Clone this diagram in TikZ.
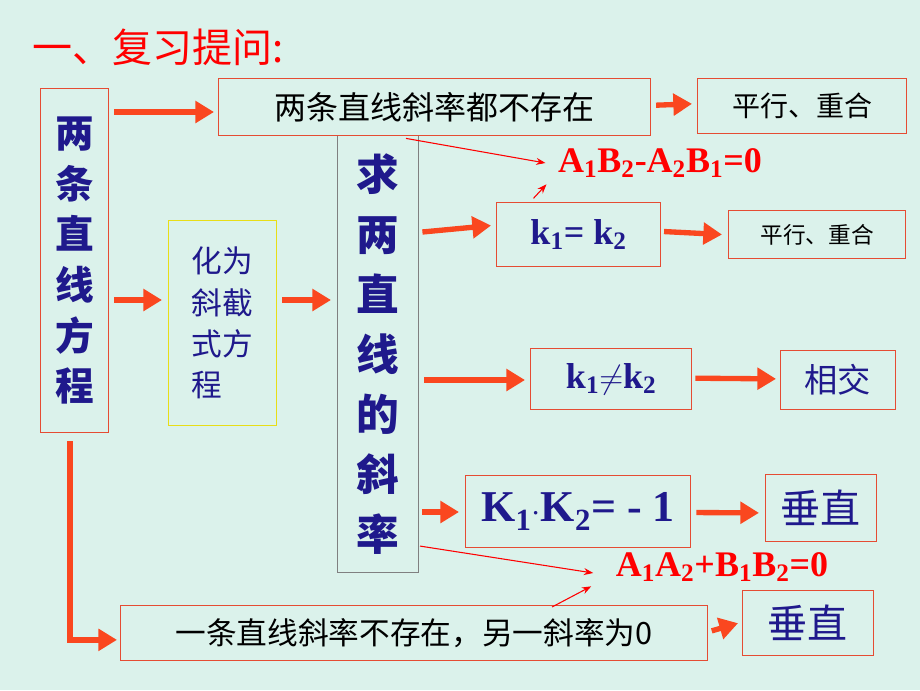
\documentclass[tikz,border=0pt]{standalone}
\usepackage{fontspec}
\setmainfont{Liberation Serif}
\newfontfamily\cjk{Noto Sans CJK SC}
\usetikzlibrary{arrows.meta,calc}
\definecolor{bgc}{rgb}{0.86,0.95,0.92}
\definecolor{arr}{rgb}{0.98,0.28,0.12}
\definecolor{txtblue}{rgb}{0.12,0.1,0.55}
\definecolor{boxred}{rgb}{0.9,0.3,0.2}
\tikzset{
  box/.style={draw=boxred,line width=0.8pt,inner sep=0pt,anchor=north west},
  fat/.style={arr,line width=4pt,-{Triangle[length=14pt,width=16pt]}},
  thin/.style={red,line width=0.8pt,-{Stealth[length=7pt]}},
}
\begin{document}
\begin{tikzpicture}[x=0.75pt,y=-0.75pt]
\fill[bgc] (0,0) rectangle (920,690);
\useasboundingbox (0,0) rectangle (920,690);
\node[anchor=west,red,font=\cjk\fontsize{30}{30}\selectfont] (title) at (28,47) {一、复习提问:};
% left column
\node[box,minimum width=51pt,minimum height=258pt] (eq) at (40,88) {};
\node[txtblue,font=\cjk\bfseries\fontsize{29}{38}\selectfont,align=center] (eqt) at (eq.center) {两\\条\\直\\线\\方\\程};
\node[box,draw=yellow!90!black,minimum width=81pt,minimum height=154pt] (xw) at (168,220) {};
\node[txtblue,font=\cjk\fontsize{23}{31}\selectfont,align=left] at (xw.center) {化为\\斜截\\式方\\程};
\node[box,draw=gray,minimum width=61pt,minimum height=328pt] (qk) at (337,135) {};
\node[txtblue,font=\cjk\bfseries\fontsize{32}{45}\selectfont,align=center] at (qk.center) {求\\两\\直\\线\\的\\斜\\率};
% top row
\node[box,minimum width=324pt,minimum height=43pt] (none) at (218,78) {};
\node[font=\cjk\fontsize{24}{24}\selectfont] at (none.center) {两条直线斜率都不存在};
\node[box,minimum width=157pt,minimum height=41pt] (px1) at (697,78) {};
\node[font=\cjk\fontsize{21}{21}\selectfont] at (px1.center) {平行、重合};
\node[red,font=\bfseries\fontsize{27}{27}\selectfont] (c1) at (660,163) {A\textsubscript{1}B\textsubscript{2}-A\textsubscript{2}B\textsubscript{1}=0};
% k1=k2
\node[box,minimum width=123pt,minimum height=48pt] (keq) at (496,202) {};
\node[txtblue,font=\bfseries\fontsize{27}{27}\selectfont] at (keq.center) {k\textsubscript{1}= k\textsubscript{2}};
\node[box,minimum width=133pt,minimum height=36pt] (px2) at (728,210) {};
\node[font=\cjk\fontsize{17}{17}\selectfont] at (px2.center) {平行、重合};
% k1!=k2
\node[box,minimum width=121pt,minimum height=46pt] (kne) at (530,348) {};
\node[txtblue,font=\bfseries\fontsize{27}{27}\selectfont] at (kne.center) {k\textsubscript{1}$\neq$k\textsubscript{2}};
\node[box,minimum width=86pt,minimum height=44pt] (xj) at (780,350) {};
\node[txtblue,font=\cjk\fontsize{25}{25}\selectfont] at (xj.center) {相交};
% K1K2=-1
\node[box,minimum width=169pt,minimum height=54pt] (kk) at (465,475) {};
\node[txtblue,font=\bfseries\fontsize{33}{33}\selectfont] at (kk.center) {K\textsubscript{1}$\cdot$K\textsubscript{2}= - 1};
\node[box,minimum width=83pt,minimum height=50pt] (cz1) at (765,474) {};
\node[txtblue,font=\cjk\fontsize{30}{30}\selectfont] at (cz1.center) {垂直};
\node[red,font=\bfseries\fontsize{27}{27}\selectfont] (c2) at (722,567) {A\textsubscript{1}A\textsubscript{2}+B\textsubscript{1}B\textsubscript{2}=0};
% bottom
\node[box,minimum width=440pt,minimum height=41pt] (one) at (120,605) {};
\node[font=\cjk\fontsize{23}{23}\selectfont] at (one.center) {一条直线斜率不存在，另一斜率为0};
\node[box,minimum width=98pt,minimum height=49pt] (cz2) at (742,590) {};
\node[txtblue,font=\cjk\fontsize{30}{30}\selectfont] at (cz2.center) {垂直};
% arrow start points
\coordinate (s1) at ($(eq.north east)+(5,24)$);
\coordinate (s2) at ($(eq.north east)+(5,212)$);
\coordinate (s3) at ($(xw.north east)+(5,80)$);
\coordinate (s4) at ($(qk.north east)+(3,97)$);
\coordinate (s5) at ($(qk.north east)+(5,245)$);
\coordinate (s6) at ($(qk.north east)+(3,377)$);
\coordinate (s7) at ($(eq.south west)+(30,8)$);
% arrows
\draw[fat] (s1) -- ($(s1 -| none.west)+(-4,0)$);
\draw[fat] ($(none.east)+(5,-2)$) -- ($(px1.west)+(-5,-2)$);
\draw[fat] (s2) -- ($(s2 -| xw.west)+(-6,0)$);
\draw[fat] (s3) -- ($(s3 -| qk.west)+(-6,0)$);
\draw[fat] (s4) -- ($(keq.west)+(-5,-9)$);
\draw[fat] ($(keq.east)+(3,-3)$) -- ($(px2.west)+(-6,0)$);
\draw[fat] (s5) -- ($(s5 -| kne.west)+(-5,0)$);
\draw[fat] ($(kne.east)+(3,-1)$) -- ($(xj.west)+(-4,-1)$);
\draw[fat] (s6) -- ($(s6 -| kk.west)+(-6,0)$);
\draw[fat] ($(kk.east)+(5,1)$) -- ($(cz1.west)+(-6,5)$);
\draw[fat] ($(one.east)+(4,-2)$) -- ($(cz2.west)+(-4,0)$);
\draw[fat] (s7) |- ($(one.west)+(-3,7)$);
\draw[thin] ($(none.south west)+(188,2)$) -- ($(c1.west)+(-8,0)$);
\draw[thin] ($(c1.south west)+(-20,16)$) -- ($(c1.south west)+(-7,2)$);
\draw[thin] ($(kk.south west)+(-45,-2)$) -- ($(c2.west)+(-18,6)$);
\draw[thin] ($(one.north west)+(432,2)$) -- ($(c2.south west)+(-20,0)$);
\end{tikzpicture}
\end{document}
